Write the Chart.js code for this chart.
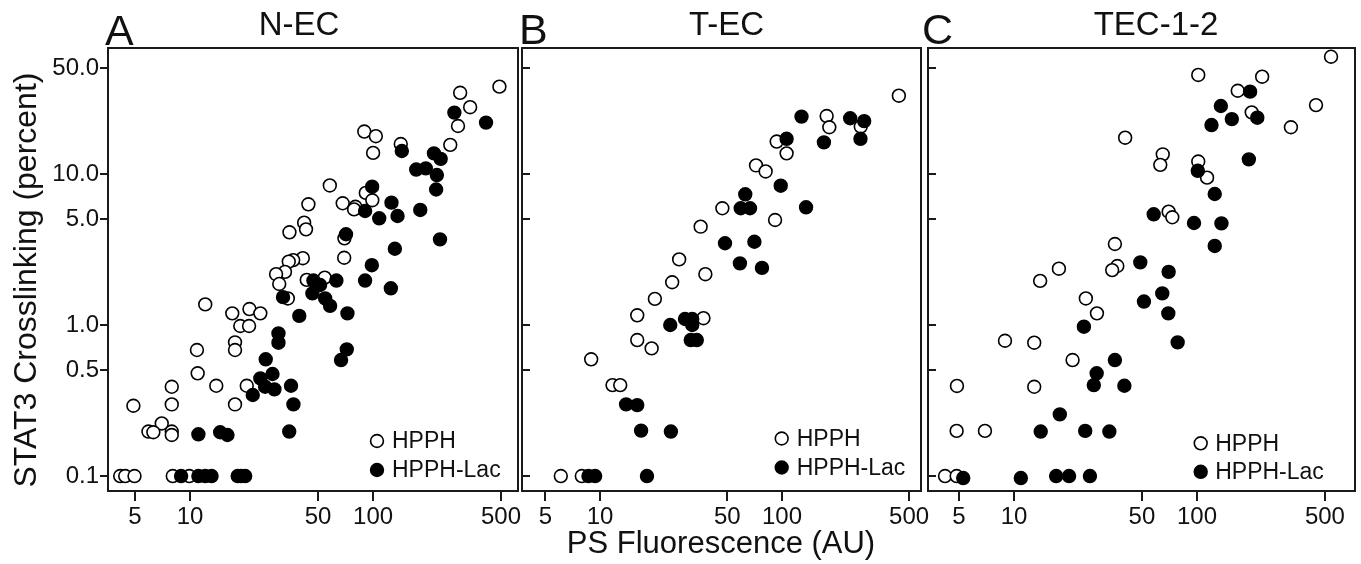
<!DOCTYPE html>
<html>
<head>
<meta charset="utf-8">
<script src="https://cdn.jsdelivr.net/npm/chart.js@4.4.1/dist/chart.umd.min.js"></script>
<style>
	body { margin: 0; background: #fff; width: 1361px; height: 564px; position: relative; overflow: hidden; }
	.pane { position: absolute; top: 0; height: 564px; }
</style>
</head>
<body>
<div class="pane" style="left:0px;width:531px"><canvas id="chartA" width="531" height="564"></canvas></div>
<div class="pane" style="left:519px;width:421px"><canvas id="chartB" width="421" height="564"></canvas></div>
<div class="pane" style="left:922px;width:439px"><canvas id="chartC" width="439" height="564"></canvas></div>
<script>
const FONT = "'Liberation Sans', Arial, sans-serif";

const panelLetters = ['A', 'B', 'C'];
const panelTitles = ['N-EC', 'T-EC', 'TEC-1-2'];
const seriesNames = ['HPPH', 'HPPH-Lac'];
const yTitle = 'STAT3 Crosslinking (percent)';
const xTitle = 'PS Fluorescence (AU)';
const xTicks = [5, 10, 50, 100, 500];
const yTicks = [0.1, 0.5, 1, 5, 10, 50];

// N-EC
const necHpphX = [490, 299, 339, 291, 264, 89.5, 103.5, 100, 141.6, 58, 44.3, 68.2, 80, 78.7, 91.2, 99, 42, 43, 34.9, 69.7,
	69.5, 41.3, 36.6, 34.6, 33, 29.5, 30.7, 54.4, 43.4, 34.2, 12.1, 17.0, 21.1, 24.2, 18.8, 21.0, 17.6, 17.6, 10.9, 11.0,
	13.9, 20.4, 17.6, 7.94, 7.94, 4.9, 7.0, 5.92, 6.3, 7.94, 7.94, 4.15, 4.42, 4.97, 8.04, 9.9];
const necHpphY = [37.9, 34.5, 27.7, 20.8, 15.6, 19.1, 17.8, 13.8, 15.8, 8.4, 6.3, 6.4, 6.07, 5.83, 7.5, 6.7, 4.76, 4.3, 4.11, 3.75,
	2.79, 2.77, 2.69, 2.63, 2.25, 2.17, 1.87, 2.06, 1.99, 1.5, 1.37, 1.195, 1.276, 1.195, 0.985, 0.985, 0.768, 0.683, 0.683, 0.479,
	0.396, 0.396, 0.298, 0.39, 0.298, 0.292, 0.223, 0.197, 0.195, 0.197, 0.187, 0.1, 0.1, 0.1, 0.1, 0.1];
const necLacX = [278, 414, 143.5, 215, 234, 172, 194, 223, 221, 98.8, 126, 136, 108, 90.4, 181, 232, 131.5, 98.4, 71.1, 63,
	90.4, 125, 47.2, 46.6, 51.3, 54.7, 58.2, 32.2, 39.5, 72.4, 30.4, 30.4, 71.8, 66.8, 25.9, 28.2, 24.2, 25.7, 28.9, 22.0,
	35.6, 36.7, 34.8, 11.1, 14.6, 16.0, 8.93, 11.1, 12.1, 13.1, 18.2, 19.0, 20.0];
const necLacY = [25.5, 21.9, 14.2, 13.7, 12.6, 10.7, 10.9, 9.84, 7.9, 8.24, 6.46, 5.27, 5.09, 5.69, 5.78, 3.69, 3.2, 2.49, 3.99, 1.97,
	1.97, 1.75, 1.97, 1.62, 1.84, 1.5, 1.34, 1.53, 1.15, 1.195, 0.88, 0.764, 0.69, 0.586, 0.593, 0.474, 0.443, 0.39, 0.375, 0.344,
	0.396, 0.298, 0.197, 0.189, 0.195, 0.187, 0.1, 0.1, 0.1, 0.1, 0.1, 0.1, 0.1];

// T-EC
const tecHpphX = [439, 176, 182, 271, 93.5, 106, 72, 81.3, 47, 91.6, 35.7, 27.2, 37.9, 24.9, 20.0, 16.0, 37.0, 16.0, 19.2, 8.93,
	11.7, 12.9, 6.08, 7.93];
const tecHpphY = [33, 24.2, 20.4, 20.6, 16.4, 13.7, 11.4, 10.4, 5.93, 4.96, 4.48, 2.72, 2.17, 1.92, 1.49, 1.16, 1.11, 0.795, 0.70, 0.593,
	0.40, 0.40, 0.1, 0.1];
const tecLacX = [128, 237, 283, 270, 106, 170, 98.4, 62.8, 59.3, 66.7, 135.6, 48.6, 70.5, 58.7, 77.6, 24.3, 29.3, 32.1, 32.1, 31.5,
	34.0, 13.9, 16.0, 16.8, 24.5, 8.63, 9.39, 18.1];
const tecLacY = [24, 23.4, 22.4, 17.1, 17.1, 16.2, 8.37, 7.34, 5.93, 5.93, 6.02, 3.48, 3.56, 2.56, 2.39, 1.0, 1.096, 1.096, 1.0, 0.795,
	0.795, 0.298, 0.295, 0.2, 0.197, 0.1, 0.1, 0.1];

// TEC-1-2
const tec12HpphX = [540, 101.6, 227, 167, 447, 199, 326, 40.5, 65, 63, 101.6, 113.5, 70, 73.3, 35.6, 36.7, 34.4, 17.6, 13.9, 24.7,
	28.4, 8.93, 12.9, 20.9, 4.88, 12.9, 4.86, 6.94, 4.2, 4.86];
const tec12HpphY = [59.8, 45.3, 44.1, 35.6, 28.6, 25.6, 20.4, 17.4, 13.5, 11.5, 12.1, 9.46, 5.63, 5.17, 3.44, 2.46, 2.31, 2.36, 1.96, 1.5,
	1.195, 0.787, 0.764, 0.586, 0.395, 0.39, 0.199, 0.199, 0.1, 0.1];
const tec12LacX = [195, 135, 155, 213.5, 120, 192, 101, 125, 58, 96.3, 136, 125, 49, 70, 64.6, 51.3, 69.7, 78.4, 24.1, 35.6,
	28.3, 27.3, 40.1, 17.8, 14.0, 24.5, 33.2, 5.28, 10.9, 17.0, 20.0, 26.0];
const tec12LacY = [35.1, 28.2, 23.1, 23.6, 21.1, 12.5, 10.5, 7.37, 5.41, 4.74, 4.71, 3.34, 2.6, 2.25, 1.62, 1.43, 1.195, 0.768, 0.975, 0.586,
	0.479, 0.40, 0.396, 0.256, 0.197, 0.199, 0.197, 0.097, 0.097, 0.1, 0.1, 0.1];

const INK = '#111';
const PT_R = 6.4;
const PT_W = 1.6;

function toPoints(xs, ys) {
	return xs.map((x, i) => ({x: x, y: ys[i]}));
}

// box, inner y ticks, legend and free text
const panelDecor = {
	id: 'panelDecor',
	beforeDatasetsDraw(chart, args, opts) {
		const {ctx, chartArea: a} = chart;
		ctx.save();
		ctx.strokeStyle = '#1a1a1a';
		ctx.lineWidth = 2;
		ctx.strokeRect(a.left, a.top, a.right - a.left, a.bottom - a.top);
		if (opts.innerTicks) {
			const ys = chart.scales.y;
			ctx.beginPath();
			yTicks.forEach(v => {
				const y = Math.round(ys.getPixelForValue(v));
				ctx.moveTo(a.left, y);
				ctx.lineTo(a.left + 8, y);
			});
			ctx.stroke();
		}
		ctx.restore();
	},
	afterDraw(chart, args, opts) {
		const ctx = chart.ctx;
		ctx.save();
		const lg = opts.legend;
		chart.data.datasets.forEach((ds, i) => {
			const y = lg.y + i * lg.gap;
			ctx.beginPath();
			ctx.arc(lg.x, y, PT_R, 0, Math.PI * 2);
			ctx.fillStyle = ds.backgroundColor;
			ctx.fill();
			ctx.lineWidth = PT_W;
			ctx.strokeStyle = ds.borderColor;
			ctx.stroke();
			ctx.fillStyle = INK;
			ctx.font = '23px ' + FONT;
			ctx.textAlign = 'left';
			ctx.textBaseline = 'middle';
			ctx.fillText(ds.label, lg.x + lg.dx, y + 1);
		});
		opts.texts.forEach(t => {
			ctx.save();
			ctx.translate(t.x, t.y);
			if (t.rot) ctx.rotate(t.rot);
			ctx.fillStyle = INK;
			ctx.font = t.size + 'px ' + FONT;
			ctx.textAlign = t.align;
			ctx.textBaseline = 'alphabetic';
			ctx.fillText(t.text, 0, 0);
			ctx.restore();
		});
		ctx.restore();
	}
};

function makePanel(id, o) {
	const ctx = document.getElementById(id);
	return new Chart(ctx, {
		type: 'scatter',
		data: {
			datasets: [
				{
					label: seriesNames[0],
					data: toPoints(o.hx, o.hy),
					backgroundColor: '#fff',
					borderColor: '#000',
					borderWidth: PT_W,
					pointRadius: PT_R,
					order: 2,
					clip: false,
				},
				{
					label: seriesNames[1],
					data: toPoints(o.lx, o.ly),
					backgroundColor: '#000',
					borderColor: '#000',
					borderWidth: PT_W,
					pointRadius: PT_R,
					order: 1,
					clip: false,
				},
			]
		},
		options: {
			responsive: false,
			animation: false,
			events: [],
			layout: { padding: o.pad, autoPadding: false },
			scales: {
				x: {
					type: 'logarithmic',
					min: o.xmin,
					max: o.xmax,
					afterBuildTicks: s => { s.ticks = xTicks.map(v => ({value: v})); },
					afterFit: s => { s.height = 73; s.paddingLeft = 0; s.paddingRight = 0; },
					grid: { drawOnChartArea: false, drawTicks: true, tickLength: 10, lineWidth: 2, color: '#1a1a1a' },
					border: { display: false },
					ticks: {
						autoSkip: false,
						maxRotation: 0,
						padding: 2,
						color: INK,
						font: { family: FONT, size: 24 },
						callback: v => String(v),
					},
				},
				y: {
					type: 'logarithmic',
					display: o.showY,
					min: 0.0796,
					max: 68.3,
					afterBuildTicks: s => { s.ticks = yTicks.map(v => ({value: v})); },
					afterFit: s => { s.width = o.showY ? 108 : 0; s.paddingTop = 0; s.paddingBottom = 0; },
					grid: { drawOnChartArea: false, drawTicks: true, tickLength: 8, lineWidth: 2, color: '#1a1a1a' },
					border: { display: false },
					ticks: {
						autoSkip: false,
						padding: 1,
						color: INK,
						font: { family: FONT, size: 24 },
						callback: v => v.toFixed(1),
					},
				},
			},
			plugins: {
				legend: { display: false },
				tooltip: { enabled: false },
				panelDecor: { innerTicks: !o.showY, legend: o.legend, texts: o.texts },
			},
		},
		plugins: [panelDecor],
	});
}

let chartA = makePanel('chartA', {
	hx: necHpphX, hy: necHpphY, lx: necLacX, ly: necLacY,
	xmin: 3.56, xmax: 619, showY: true,
	pad: { left: 0, right: 13, top: 48, bottom: 0 },
	legend: { x: 377, y: 441, gap: 29, dx: 15 },
	texts: [
		{ text: panelLetters[0], x: 105, y: 45, size: 43, align: 'left' },
		{ text: panelTitles[0], x: 299, y: 35, size: 33, align: 'center' },
		{ text: yTitle, x: 36, y: 280, size: 32, align: 'center', rot: -Math.PI / 2 },
	],
});

let chartB = makePanel('chartB', {
	hx: tecHpphX, hy: tecHpphY, lx: tecLacX, ly: tecLacY,
	xmin: 3.72, xmax: 581, showY: false,
	pad: { left: 3, right: 19, top: 48, bottom: 0 },
	legend: { x: 262.7, y: 438.5, gap: 29, dx: 15 },
	texts: [
		{ text: panelLetters[1], x: 0, y: 44, size: 43, align: 'left' },
		{ text: panelTitles[1], x: 207.5, y: 35, size: 33, align: 'center' },
		{ text: xTitle, x: 202, y: 553, size: 31, align: 'center' },
	],
});

let chartC = makePanel('chartC', {
	hx: tec12HpphX, hy: tec12HpphY, lx: tec12LacX, ly: tec12LacY,
	xmin: 3.39, xmax: 730, showY: false,
	pad: { left: 6, right: 6, top: 48, bottom: 0 },
	legend: { x: 278.7, y: 443.3, gap: 28.5, dx: 14.5 },
	texts: [
		{ text: panelLetters[2], x: 0, y: 44, size: 43, align: 'left' },
		{ text: panelTitles[2], x: 234, y: 35, size: 33, align: 'center' },
	],
});
</script>
</body>
</html>
